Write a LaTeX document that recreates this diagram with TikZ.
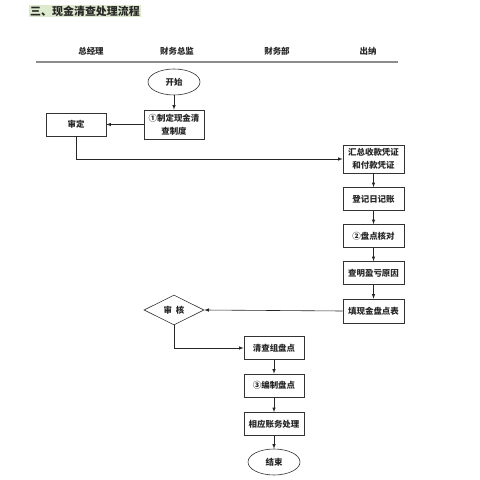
\documentclass[tikz,border=0pt]{standalone}
\usepackage{fontspec}
\newfontfamily\cjk{Noto Sans CJK SC}
\usetikzlibrary{shapes.geometric}
\definecolor{titlebg}{RGB}{222,234,206}
\begin{document}
\begin{tikzpicture}[x=1bp,y=-1bp,>=latex,
  every node/.style={font=\cjk\bfseries\fontsize{8.5}{13}\selectfont,text=black!85},
  box/.style={draw=black!80,line width=0.6bp,minimum width=60bp,minimum height=23bp,inner sep=1bp,align=center},
  term/.style={draw=black!80,line width=0.6bp,ellipse,minimum width=52bp,minimum height=26bp,inner sep=0pt},
  flow/.style={->,draw=black!85,line width=0.6bp}]
\useasboundingbox (0,0) rectangle (480,480);
\node[fill=titlebg,inner sep=1bp,font=\cjk\bfseries\fontsize{11}{13}\selectfont] (title) at (85,11) {三、现金清查处理流程};
% lanes
\node (gm) at (91,51) {总经理};
\node (cfo) at (177,51) {财务总监};
\node (fin) at (277,51) {财务部};
\node (cash) at (368,51) {出纳};
\draw[black!45,line width=1.5bp] (36,62) -- (398,62);
% steps
\node[term] (start) at (174,82) {开始};
\node[box,minimum height=29bp] (rule) at (174,124.5) {①制定现金清\\查制度};
\node[box] (approve) at (76,124.5) {审定};
\node[box,minimum width=61bp,minimum height=28bp] (sum) at (373.5,159) {汇总收款凭证\\和付款凭证};
\node[box,minimum width=61bp] (journal) at (373.5,199) {登记日记账};
\node[box,minimum width=61bp] (count1) at (373.5,236) {②盘点核对};
\node[box,minimum width=61bp] (reason) at (373.5,273) {查明盈亏原因};
\node[box,minimum width=61bp,minimum height=24bp] (fill) at (373.5,311) {填现金盘点表};
\node[draw=black!80,line width=0.6bp,diamond,aspect=2,minimum width=60bp,minimum height=30bp,inner sep=0pt] (check) at (174,310) {审\ \ 核};
\node[box] (team) at (274,348) {清查组盘点};
\node[box] (list) at (274,385.5) {③编制盘点};
\node[box] (book) at (274,424) {相应账务处理};
\node[term] (end) at (274,462) {结束};
% connectors
\draw[flow] (start) -- (rule);
\draw[flow] (rule) -- (approve);
\draw[flow] (approve.south) |- (sum.west);
\draw[flow] (sum) -- (journal);
\draw[flow] (journal) -- (count1);
\draw[flow] (count1) -- (reason);
\draw[flow] (reason) -- (fill);
\draw[flow] (fill.west) -- (check.east);
\draw[flow] (check.south) |- (team.west);
\draw[flow] (team) -- (list);
\draw[flow] (list) -- (book);
\draw[flow] (book) -- (end);
\end{tikzpicture}
\end{document}
